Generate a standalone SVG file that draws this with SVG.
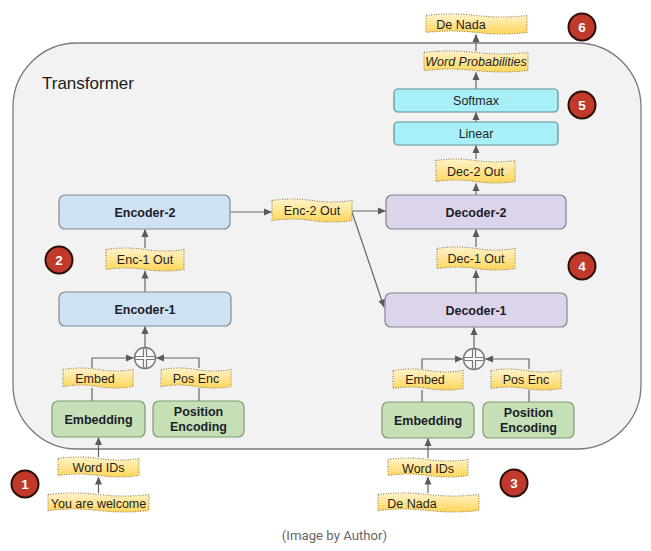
<svg xmlns="http://www.w3.org/2000/svg" width="651" height="551" viewBox="0 0 651 551">
<defs>
<linearGradient id="yel" x1="0" y1="0" x2="0" y2="1">
<stop offset="0" stop-color="#fff3cc"/>
<stop offset="1" stop-color="#ffd65a"/>
</linearGradient>
<marker id="ah" markerUnits="userSpaceOnUse" markerWidth="8" markerHeight="8" viewBox="0 0 8 8" refX="7.5" refY="4" orient="auto">
<path d="M0,0.5 L8,4 L0,7.5 Z" fill="#5a5a5a"/>
</marker>
</defs>
<style>
.lbl{fill:url(#yel);stroke:#8f7f50;stroke-width:1.1;stroke-dasharray:1 1.5}
.t{font-family:"Liberation Sans",Arial,sans-serif;font-size:12.5px;fill:#1e1e1e;text-anchor:middle}
.b{font-weight:bold;fill:#1c1c2a}
.enc{fill:#cfe2f3;stroke:#7f8b96;stroke-width:1.2}
.dec{fill:#dcd4ea;stroke:#87828f;stroke-width:1.2}
.emb{fill:#c5e0b6;stroke:#7f9b72;stroke-width:1.2}
.cy{fill:#a8f0f8;stroke:#5f8d92;stroke-width:1.2}
.c{fill:none;stroke:#666;stroke-width:1.2}
.ca{fill:none;stroke:#666;stroke-width:1.2;marker-end:url(#ah)}
.bd circle{fill:#c0392b;stroke:#2a0e08;stroke-width:2}
.bd text{font-family:"Liberation Sans",Arial,sans-serif;font-size:13.5px;font-weight:bold;fill:#fff;text-anchor:middle}
</style>
<rect width="651" height="551" fill="#ffffff"/>
<g id="container">
<rect x="13" y="43" width="628" height="406" rx="64" ry="64" fill="#f2f2f2" stroke="#7a7a7a" stroke-width="1.3"/>
<text x="42" y="89" font-family="'Liberation Sans',Arial,sans-serif" font-size="17" fill="#1a1a1a">Transformer</text>
</g>
<g id="connectors">
<path class="ca" d="M145,292 V271"/>
<path class="ca" d="M145,248 V229.5"/>
<path class="ca" d="M145,347 V326.5"/>
<path class="ca" d="M92,368 V358 H133.5"/>
<path class="ca" d="M199,368 V358 H156.5"/>
<path class="c" d="M92,401 V388"/>
<path class="c" d="M199,401 V388"/>
<path class="ca" d="M98.5,457 V437.5"/>
<path class="ca" d="M98.5,493 V477"/>
<path class="ca" d="M231,212 H271.5"/>
<path class="ca" d="M352,211 H385.5"/>
<path class="ca" d="M352,212 L384,307"/>
<path class="ca" d="M476,293 V270.5"/>
<path class="ca" d="M476,247 V229.5"/>
<path class="ca" d="M474,348 V327.5"/>
<path class="ca" d="M422,369 V359 H462.5"/>
<path class="ca" d="M529,369 V359 H485.5"/>
<path class="c" d="M422,402 V390"/>
<path class="c" d="M529,402 V390"/>
<path class="ca" d="M428,458 V438.5"/>
<path class="ca" d="M428,493 V477"/>
<path class="ca" d="M476,195 V183.5"/>
<path class="ca" d="M476,159 V145.5"/>
<path class="ca" d="M476,122 V112.5"/>
<path class="ca" d="M476,89 V72.5"/>
<path class="ca" d="M476,51 V34.5"/>
</g>
<g id="encoder-2"><rect class="enc" x="59" y="195" width="171" height="34" rx="6"/><text class="t b" x="145" y="216.5">Encoder-2</text></g>
<g id="encoder-1"><rect class="enc" x="59" y="292" width="172" height="34" rx="6"/><text class="t b" x="145" y="313.5">Encoder-1</text></g>
<g id="decoder-2"><rect class="dec" x="386" y="195" width="180" height="34" rx="6"/><text class="t b" x="476" y="216.5">Decoder-2</text></g>
<g id="decoder-1"><rect class="dec" x="385" y="293" width="182" height="34" rx="6"/><text class="t b" x="476" y="314.5">Decoder-1</text></g>
<g id="softmax"><rect class="cy" x="394" y="89" width="164" height="23" rx="4"/><text class="t" x="476" y="105">Softmax</text></g>
<g id="linear"><rect class="cy" x="394" y="122" width="164" height="23" rx="4"/><text class="t" x="476" y="138">Linear</text></g>
<g id="embedding-enc"><rect class="emb" x="52" y="401" width="93" height="36" rx="6"/><text class="t b" x="98.5" y="423.5">Embedding</text></g>
<g id="posenc-enc"><rect class="emb" x="153" y="401" width="91" height="36" rx="6"/><text class="t b" x="198.5" y="416">Position</text><text class="t b" x="198.5" y="431">Encoding</text></g>
<g id="embedding-dec"><rect class="emb" x="382" y="402" width="92" height="36" rx="6"/><text class="t b" x="428" y="424.5">Embedding</text></g>
<g id="posenc-dec"><rect class="emb" x="483" y="402" width="91" height="36" rx="6"/><text class="t b" x="528.5" y="417">Position</text><text class="t b" x="528.5" y="432">Encoding</text></g>
<g id="plus-enc" fill="none">
<circle cx="145" cy="358" r="10.5" fill="#f7f7f7" stroke="#777" stroke-width="1.4"/>
<path d="M145,348.5 V367.5 M135.5,358 H154.5" stroke="#777" stroke-width="4.2"/>
<path d="M145,349 V367 M136,358 H154" stroke="#fafafa" stroke-width="1.8"/>
</g>
<g id="plus-dec" fill="none">
<circle cx="474" cy="359" r="10.5" fill="#f7f7f7" stroke="#777" stroke-width="1.4"/>
<path d="M474,349.5 V368.5 M464.5,359 H483.5" stroke="#777" stroke-width="4.2"/>
<path d="M474,350 V368 M465,359 H483" stroke="#fafafa" stroke-width="1.8"/>
</g>
<g id="lbl-denada-out"><path class="lbl" d="M426,15.5 Q451.25,12.5 476.5,15.5 T527,15.5 L527,32.5 Q501.75,35.5 476.5,32.5 T426,32.5 Z"/><text class="t" x="461" y="29">De Nada</text></g>
<g id="lbl-wordprob"><path class="lbl" d="M424,52.5 Q450,49.5 476,52.5 T528,52.5 L528,70.5 Q502,73.5 476,70.5 T424,70.5 Z"/><text class="t" x="476" y="66" font-style="italic">Word Probabilities</text></g>
<g id="lbl-dec2out"><path class="lbl" d="M436,160.5 Q455.75,157.5 475.5,160.5 T515,160.5 L515,181.5 Q495.25,184.5 475.5,181.5 T436,181.5 Z"/><text class="t" x="475.5" y="175.5">Dec-2 Out</text></g>
<g id="lbl-enc2out"><path class="lbl" d="M272,200.5 Q292,197.5 312,200.5 T352,200.5 L352,220.5 Q332,223.5 312,220.5 T272,220.5 Z"/><text class="t" x="312" y="215">Enc-2 Out</text></g>
<g id="lbl-enc1out"><path class="lbl" d="M106,249.5 Q125.5,246.5 145,249.5 T184,249.5 L184,269.5 Q164.5,272.5 145,269.5 T106,269.5 Z"/><text class="t" x="145" y="264">Enc-1 Out</text></g>
<g id="lbl-dec1out"><path class="lbl" d="M437,248.5 Q456.5,245.5 476,248.5 T515,248.5 L515,268.5 Q495.5,271.5 476,268.5 T437,268.5 Z"/><text class="t" x="476" y="263">Dec-1 Out</text></g>
<g id="lbl-embed-enc"><path class="lbl" d="M63,369.5 Q80.5,366.5 98,369.5 T133,369.5 L133,386.5 Q115.5,389.5 98,386.5 T63,386.5 Z"/><text class="t" x="95" y="382.5">Embed</text></g>
<g id="lbl-posenc-enc"><path class="lbl" d="M161,369.5 Q178.5,366.5 196,369.5 T231,369.5 L231,386.5 Q213.5,389.5 196,386.5 T161,386.5 Z"/><text class="t" x="196" y="382.5">Pos Enc</text></g>
<g id="lbl-embed-dec"><path class="lbl" d="M393,370.5 Q410.5,367.5 428,370.5 T463,370.5 L463,388.5 Q445.5,391.5 428,388.5 T393,388.5 Z"/><text class="t" x="425" y="383.5">Embed</text></g>
<g id="lbl-posenc-dec"><path class="lbl" d="M491,370.5 Q508.5,367.5 526,370.5 T561,370.5 L561,388.5 Q543.5,391.5 526,388.5 T491,388.5 Z"/><text class="t" x="526" y="383.5">Pos Enc</text></g>
<g id="lbl-wordids-enc"><path class="lbl" d="M58,458.5 Q78.25,455.5 98.5,458.5 T139,458.5 L139,475.5 Q118.75,478.5 98.5,475.5 T58,475.5 Z"/><text class="t" x="98.5" y="472">Word IDs</text></g>
<g id="lbl-input-enc"><path class="lbl" d="M48,494.5 Q73.25,491.5 98.5,494.5 T149,494.5 L149,510.5 Q123.75,513.5 98.5,510.5 T48,510.5 Z"/><text class="t" x="98.5" y="507.5">You are welcome</text></g>
<g id="lbl-wordids-dec"><path class="lbl" d="M388,459.5 Q408,456.5 428,459.5 T468,459.5 L468,475.5 Q448,478.5 428,475.5 T388,475.5 Z"/><text class="t" x="428" y="472.5">Word IDs</text></g>
<g id="lbl-input-dec"><path class="lbl" d="M378,494.5 Q403.25,491.5 428.5,494.5 T479,494.5 L479,510.5 Q453.75,513.5 428.5,510.5 T378,510.5 Z"/><text class="t" x="412" y="507.5">De Nada</text></g>
<g id="badge-1" class="bd"><circle cx="25" cy="484" r="13.5"/><text x="25" y="488.5">1</text></g>
<g id="badge-2" class="bd"><circle cx="59" cy="260" r="13.5"/><text x="59" y="264.5">2</text></g>
<g id="badge-3" class="bd"><circle cx="514" cy="483" r="13.5"/><text x="514" y="487.5">3</text></g>
<g id="badge-4" class="bd"><circle cx="582" cy="266" r="13.5"/><text x="582" y="270.5">4</text></g>
<g id="badge-5" class="bd"><circle cx="582" cy="105" r="13.5"/><text x="582" y="109.5">5</text></g>
<g id="badge-6" class="bd"><circle cx="582" cy="27" r="13.5"/><text x="582" y="31.5">6</text></g>
<text x="334.5" y="540" font-family="Roboto,'Liberation Sans',Arial,sans-serif" font-size="13.2" fill="#666" text-anchor="middle">(Image by Author)</text>
</svg>
